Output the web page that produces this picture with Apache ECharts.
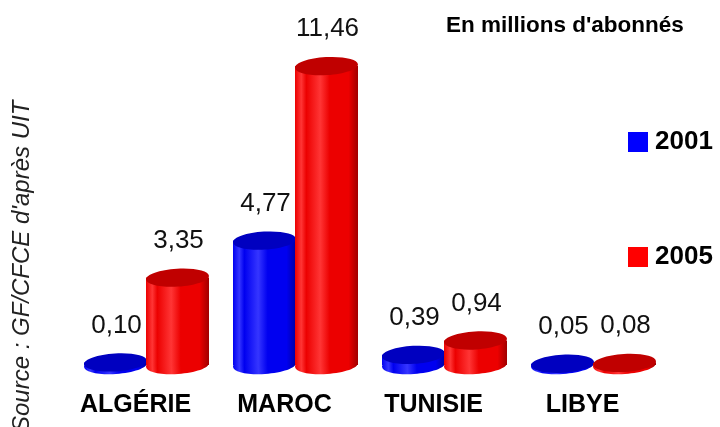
<!DOCTYPE html>
<html>
<head>
<meta charset="utf-8">
<script src="https://cdn.jsdelivr.net/npm/echarts@6/dist/echarts.min.js"></script>
<style>
  html, body { margin: 0; padding: 0; background: #fff; }
  #main { width: 720px; height: 427px; }
</style>
</head>
<body>
<div id="main"></div>
<script>
  // données (millions d'abonnés)
  var pays = ['ALGÉRIE', 'MAROC', 'TUNISIE', 'LIBYE'];
  var val2001 = [0.10, 4.77, 0.39, 0.05];
  var val2005 = [3.35, 11.46, 0.94, 0.08];
  var annees = ['2001', '2005'];

  var chart = echarts.init(document.getElementById('main'));

  function fmt(v) {
    return v.toFixed(2).replace('.', ',');
  }

  function bodyGradient(light, mid, dark) {
    return new echarts.graphic.LinearGradient(0, 0, 1, 0, [
      {offset: 0, color: mid},
      {offset: 0.1, color: light},
      {offset: 0.18, color: mid},
      {offset: 0.4, color: light},
      {offset: 0.55, color: mid},
      {offset: 0.85, color: mid},
      {offset: 1, color: dark}
    ]);
  }

  // cylindre dessiné à partir des coordonnées de l'axe
  function cylindre(offset, light, mid, dark, topColor) {
    return function (params, api) {
      var idx = api.value(0);
      var v = api.value(1);
      var top = api.coord([idx, v]);
      var base = api.coord([idx, 0]);
      var cx = top[0] + offset;
      var rx = 31.5, ry = 9;
      var rot = 0.06;
      var grad = bodyGradient(light, mid, dark);
      return {
        type: 'group',
        children: [
          {
            type: 'ellipse',
            shape: {cx: cx, cy: base[1], rx: rx, ry: ry},
            rotation: rot, originX: cx, originY: base[1],
            style: {fill: grad}
          },
          {
            type: 'rect',
            shape: {x: cx - rx, y: top[1], width: rx * 2, height: base[1] - top[1]},
            style: {fill: grad}
          },
          {
            type: 'ellipse',
            shape: {cx: cx, cy: top[1], rx: rx, ry: ry},
            rotation: rot, originX: cx, originY: top[1],
            style: {fill: topColor}
          },
          {
            type: 'text',
            style: {
              x: cx + 1, y: top[1] - 37,
              text: fmt(v),
              fill: '#111',
              font: '26px "Liberation Sans", Arial, sans-serif',
              align: 'center', verticalAlign: 'middle'
            }
          }
        ]
      };
    };
  }

  chart.setOption({
    animation: false,
    title: {
      text: "En millions d'abonnés",
      left: 441, top: 9,
      textStyle: {fontFamily: 'Liberation Sans', fontSize: 22.5, fontWeight: 'bold', color: '#000'}
    },
    legend: {
      orient: 'vertical',
      left: 623, top: 124,
      itemWidth: 20, itemHeight: 20,
      itemGap: 89,
      icon: 'rect',
      data: annees,
      textStyle: {fontFamily: 'Liberation Sans', fontSize: 26, fontWeight: 'bold', color: '#000', lineHeight: 20, padding: [2, 0, 0, 2]}
    },
    graphic: [{
      type: 'text',
      x: 22, y: 432,
      rotation: Math.PI / 2,
      style: {
        text: "Source : GF/CFCE d'après UIT",
        font: 'italic 24px "Liberation Sans", Arial, sans-serif',
        fill: '#222',
        align: 'left', verticalAlign: 'middle'
      }
    }],
    grid: {left: 72, width: 596, top: 52, height: 313},
    xAxis: {
      type: 'category',
      data: pays,
      axisLine: {show: false},
      axisTick: {show: false},
      axisLabel: {
        margin: 28,
        padding: [0, 22, 0, 0],
        fontFamily: 'Liberation Sans', fontSize: 25, fontWeight: 'bold', color: '#000'
      }
    },
    yAxis: {type: 'value', min: 0, max: 12, show: false, splitLine: {show: false}},
    series: [
      {
        name: '2001',
        type: 'custom',
        itemStyle: {color: '#0000ff'},
        renderItem: cylindre(-31, '#3535ff', '#0000f0', '#0000a0', '#0000c0'),
        encode: {x: 0, y: 1},
        data: val2001.map(function (v, i) { return [i, v]; })
      },
      {
        name: '2005',
        type: 'custom',
        itemStyle: {color: '#ff0000'},
        renderItem: cylindre(31, '#ff3535', '#ec0000', '#a00000', '#c00000'),
        encode: {x: 0, y: 1},
        data: val2005.map(function (v, i) { return [i, v]; })
      }
    ]
  });
</script>
</body>
</html>
